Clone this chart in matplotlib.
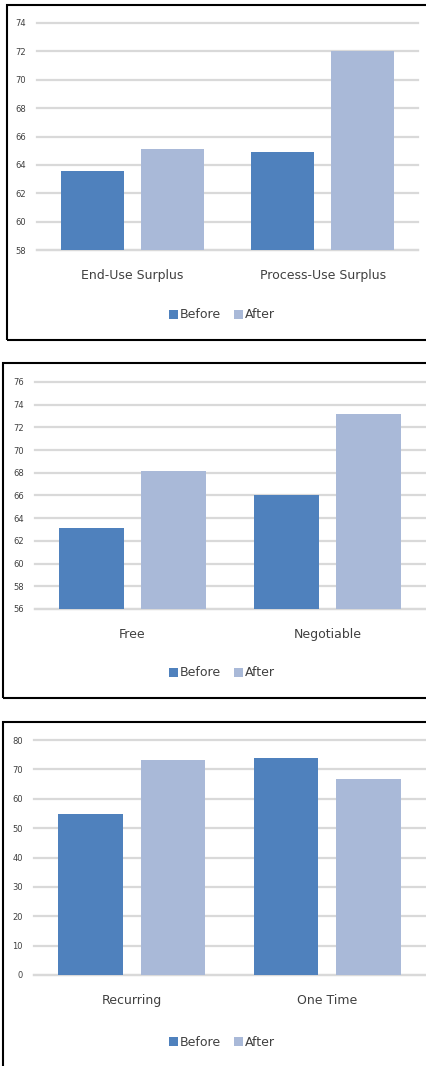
import matplotlib.pyplot as plt
from matplotlib.patches import Rectangle
import numpy as np

W, H = 427, 1066

surplus_cats = ["End-Use Surplus", "Process-Use Surplus"]
surplus_before = [63.6, 64.9]
surplus_after = [65.1, 72.0]
surplus_ticks = [58, 60, 62, 64, 66, 68, 70, 72, 74]

price_cats = ["Free", "Negotiable"]
price_before = [63.1, 66.0]
price_after = [68.2, 73.2]
price_ticks = [56, 58, 60, 62, 64, 66, 68, 70, 72, 74, 76]

payment_cats = ["Recurring", "One Time"]
payment_before = [54.7, 73.8]
payment_after = [73.1, 66.7]
payment_ticks = [0, 10, 20, 30, 40, 50, 60, 70, 80]

BEFORE = "#4f81bd"
AFTER = "#a9b9d8"
GRID = "#d9d9d9"

plt.rcParams["font.family"] = ["Liberation Sans Narrow", "DejaVu Sans"]


def px_box(x0, y0, x1, y1):
    # pixel box (top-left origin) -> figure fraction rect
    return [x0 / W, 1 - y1 / H, (x1 - x0) / W, (y1 - y0) / H]


def panel(fig, rect, frame, cats, before, after, ticks, legend_y):
    ax = fig.add_axes(px_box(*rect))
    x = np.arange(len(cats))
    ax.bar(x - 0.21, before, width=0.33, color=BEFORE, label="Before", zorder=3)
    ax.bar(x + 0.21, after, width=0.33, color=AFTER, label="After", zorder=3)
    ax.set_xlim(-0.5, len(cats) - 0.5)
    ax.set_ylim(ticks[0], ticks[-1])
    ax.set_yticks(ticks)
    ax.set_yticklabels([str(t) for t in ticks], fontsize=6, color="#404040")
    ax.set_xticks(x)
    ax.set_xticklabels(cats, fontsize=9, color="#404040")
    ax.tick_params(axis="x", length=0, pad=14)
    ax.tick_params(axis="y", length=0, pad=8)
    ax.grid(axis="y", color=GRID, linewidth=1.6, zorder=0)
    for line in ax.get_ygridlines():
        line.set_clip_on(False)
    for s in ["top", "right", "left"]:
        ax.spines[s].set_visible(False)
    ax.spines["bottom"].set_color(GRID)
    ax.spines["bottom"].set_linewidth(1.6)
    ax.legend(loc="center", bbox_to_anchor=(222 / W, 1 - legend_y / H),
              bbox_transform=fig.transFigure, ncol=2, frameon=False,
              fontsize=9, handlelength=0.7, handleheight=0.7,
              handletextpad=0.2, columnspacing=1.0, labelcolor="#404040")
    x0, y0, x1, y1 = frame
    fig.patches.append(Rectangle((x0 / W, 1 - y1 / H), (x1 - x0) / W, (y1 - y0) / H,
                                 transform=fig.transFigure, fill=False,
                                 edgecolor="black", linewidth=1.5))
    return ax


fig = plt.figure(figsize=(W / 100, H / 100), dpi=100)

panel(fig, (37, 23, 418, 250), (7, 5, 432, 340),
      surplus_cats, surplus_before, surplus_after, surplus_ticks, 315)
panel(fig, (35, 382, 425, 609), (3, 363, 432, 698),
      price_cats, price_before, price_after, price_ticks, 673)
panel(fig, (34, 740, 425, 975), (3, 722, 432, 1070),
      payment_cats, payment_before, payment_after, payment_ticks, 1042)

fig.savefig("out.png", dpi=100)
